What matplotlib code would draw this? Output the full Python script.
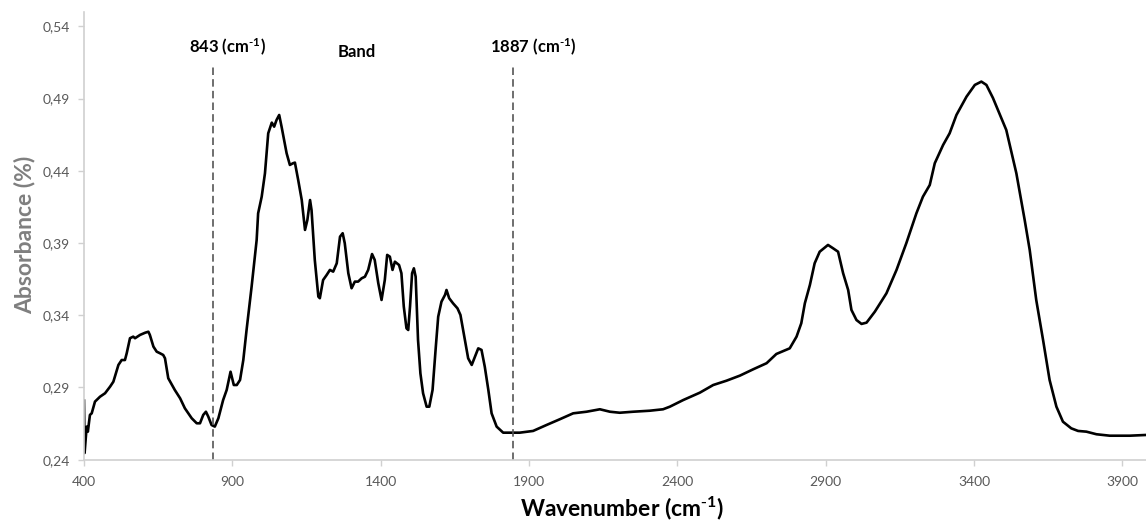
import matplotlib

matplotlib.use("Agg")
import matplotlib.pyplot as plt
from matplotlib.ticker import FixedLocator, FuncFormatter

plt.rcParams["font.family"] = ["Lato", "DejaVu Sans"]
plt.rcParams["mathtext.default"] = "regular"

# FTIR spectrum
wavenumber = [
    400, 402, 409, 413, 420, 426, 437, 454, 471, 488, 499, 516, 527, 538, 544, 555,
    566, 572, 589, 606, 617, 622, 634, 645, 656, 667, 673, 684, 706, 724, 740, 763,
    780, 791, 802, 811, 819, 830, 841, 853, 869, 881, 894, 905, 915, 926, 937, 948,
    965, 982, 987, 999, 1010, 1021, 1033, 1041, 1049, 1058, 1066, 1083, 1094, 1105,
    1111, 1122, 1134, 1145, 1153, 1162, 1167, 1178, 1190, 1195, 1206, 1218, 1229,
    1240, 1252, 1263, 1272, 1279, 1291, 1302, 1313, 1324, 1336, 1347, 1358, 1371,
    1380, 1392, 1403, 1414, 1422, 1431, 1440, 1448, 1462, 1470, 1478, 1487, 1493,
    1499, 1506, 1512, 1518, 1526, 1534, 1543, 1555, 1564, 1575, 1586, 1594, 1605,
    1617, 1622, 1631, 1644, 1659, 1669, 1682, 1695, 1707, 1718, 1729, 1740, 1751,
    1763, 1774, 1791, 1813, 1847, 1869, 1914, 1959, 2004, 2049, 2094, 2139, 2173,
    2206, 2251, 2307, 2352, 2375, 2420, 2476, 2521, 2566, 2611, 2656, 2701, 2734,
    2779, 2802, 2818, 2830, 2847, 2863, 2880, 2908, 2925, 2942, 2959, 2976, 2987,
    3004, 3021, 3038, 3066, 3105, 3139, 3172, 3206, 3228, 3251, 3268, 3296, 3318,
    3341, 3375, 3403, 3425, 3442, 3464, 3509, 3543, 3571, 3588, 3610, 3633, 3655,
    3678, 3700, 3728, 3751, 3779, 3813, 3858, 3925, 3979,
]
absorbance = [
    0.2809, 0.2446, 0.2629, 0.2594, 0.2710, 0.2721, 0.2802, 0.2836, 0.2860, 0.2906,
    0.2940, 0.3056, 0.3090, 0.3090, 0.3137, 0.3241, 0.3252, 0.3241, 0.3264, 0.3279,
    0.3286, 0.3264, 0.3183, 0.3148, 0.3137, 0.3125, 0.3102, 0.2964, 0.2883, 0.2825,
    0.2756, 0.2687, 0.2652, 0.2652, 0.2710, 0.2732, 0.2698, 0.2640, 0.2629, 0.2687,
    0.2813, 0.2883, 0.3009, 0.2917, 0.2917, 0.2952, 0.3090, 0.3298,
    0.3598, 0.3921, 0.4106, 0.4221, 0.4383, 0.4660, 0.4734, 0.4706, 0.4752, 0.4787,
    0.4706, 0.4522, 0.4441, 0.4453, 0.4457, 0.4337, 0.4198, 0.3991, 0.4060, 0.4198,
    0.4129, 0.3783, 0.3529, 0.3518, 0.3644, 0.3679, 0.3714, 0.3702, 0.3760, 0.3944,
    0.3968, 0.3899, 0.3691, 0.3587, 0.3633, 0.3633, 0.3656, 0.3667, 0.3714, 0.3824,
    0.3783, 0.3622, 0.3506, 0.3644, 0.3818, 0.3806, 0.3714, 0.3771, 0.3748, 0.3691,
    0.3460, 0.3310, 0.3298, 0.3460, 0.3691, 0.3725, 0.3667, 0.3229, 0.2998, 0.2860,
    0.2767, 0.2767, 0.2883, 0.3183, 0.3390, 0.3494, 0.3541, 0.3575, 0.3518, 0.3483,
    0.3448, 0.3402, 0.3252, 0.3102, 0.3056, 0.3113, 0.3171, 0.3160, 0.3044, 0.2883,
    0.2721, 0.2629, 0.2587, 0.2587, 0.2587, 0.2599, 0.2640, 0.2680, 0.2721, 0.2732,
    0.2749, 0.2732, 0.2725, 0.2732, 0.2739, 0.2749, 0.2767, 0.2813, 0.2864, 0.2917,
    0.2947, 0.2982, 0.3026, 0.3068, 0.3132, 0.3171, 0.3252, 0.3345, 0.3483, 0.3610,
    0.3760, 0.3840, 0.3887, 0.3864, 0.3840, 0.3691, 0.3575, 0.3437, 0.3367, 0.3340,
    0.3349, 0.3425, 0.3552, 0.3714, 0.3899, 0.4106, 0.4221, 0.4302, 0.4453, 0.4579,
    0.4660, 0.4787, 0.4914, 0.4995, 0.5018, 0.4995, 0.4905, 0.4683, 0.4383, 0.4060,
    0.3852, 0.3506, 0.3229, 0.2952, 0.2767, 0.2663, 0.2617, 0.2599, 0.2594, 0.2576,
    0.2566, 0.2566, 0.2571,
]

# dashed markers, drawn where they sit in the picture
marker_x = [834, 1846]
marker_labels = [r"843 (cm$^{\text{-}1}$)", r"1887 (cm$^{\text{-}1}$)"]
marker_label_x = [885, 1913]
band_x = 1320

x_ticks = [400, 900, 1400, 1900, 2400, 2900, 3400, 3900]
y_ticks = [0.24, 0.29, 0.34, 0.39, 0.44, 0.49, 0.54]

fig = plt.figure(figsize=(11.46, 5.22), dpi=100)
ax = fig.add_axes([0.0733, 0.1194, 0.9267, 0.8576])

ax.plot(wavenumber, absorbance, color="black", lw=1.9, solid_joinstyle="round")

for xv in marker_x:
    ax.plot([xv, xv], [0.24, 0.513], color="#555555", lw=1.2, linestyle=(0, (4.5, 2.5)))
for xv, label in zip(marker_label_x, marker_labels):
    ax.text(xv, 0.5258, label, ha="center", va="center", fontsize=12, fontweight="bold")
ax.text(band_x, 0.5223, "Band", ha="center", va="center", fontsize=12, fontweight="bold")

ax.set_xlim(400, 3980)
ax.set_ylim(0.24, 0.55)
ax.xaxis.set_major_locator(FixedLocator(x_ticks))
ax.yaxis.set_major_locator(FixedLocator(y_ticks))
ax.yaxis.set_major_formatter(FuncFormatter(lambda v, _: f"{v:.2f}".replace(".", ",")))

for side in ["top", "right"]:
    ax.spines[side].set_visible(False)
for side in ["left", "bottom"]:
    ax.spines[side].set_color("#d0d0d0")
    ax.spines[side].set_linewidth(1.2)
ax.tick_params(axis="both", direction="out", length=4, width=1, color="#d0d0d0",
               labelcolor="#595959", labelsize=10)
ax.tick_params(axis="x", pad=8)
ax.tick_params(axis="y", pad=6)

fig.text(622 / 1146, 1 - 508 / 522, r"Wavenumber (cm$^{\text{-}1}$)", ha="center", va="center",
         fontsize=16.5, fontweight="bold", color="black")
fig.text(25 / 1146, 1 - 235 / 522, "Absorbance (%)", ha="center", va="center",
         rotation=90, fontsize=16.5, fontweight="bold", color="#7f7f7f")

fig.savefig("out.png", dpi=100)
